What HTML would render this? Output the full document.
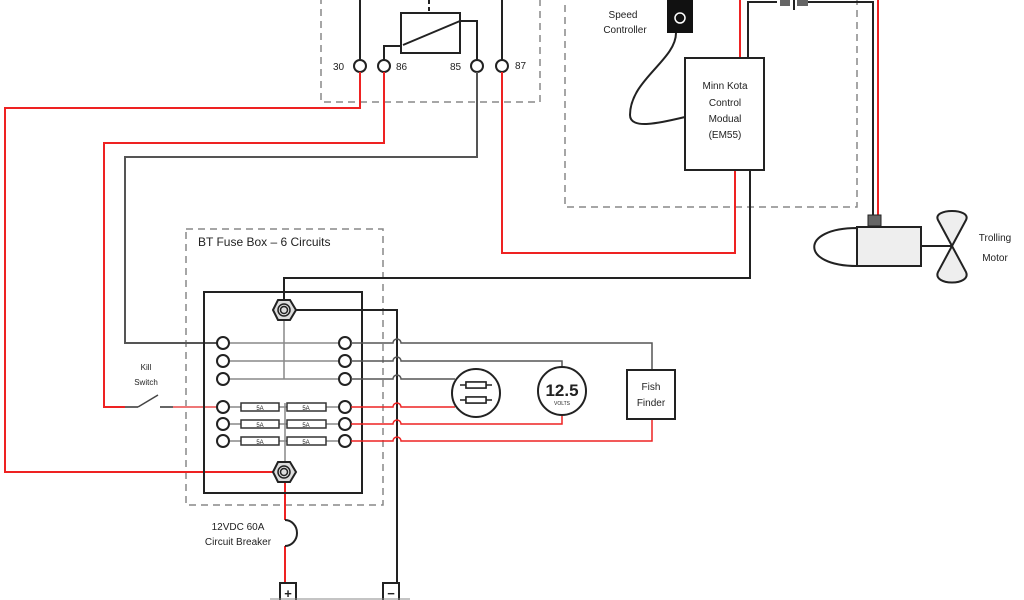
<!DOCTYPE html>
<html><head><style>body{margin:0;background:#fff}svg{display:block}text{font-family:"Liberation Sans",sans-serif;fill:#222}</style></head><body>
<svg width="1024" height="600" viewBox="0 0 1024 600" xmlns="http://www.w3.org/2000/svg">
<g fill="none" stroke="#888" stroke-width="1.5" stroke-dasharray="7,5">
<rect x="321" y="-10" width="219" height="112"/>
<rect x="565" y="-10" width="292" height="217"/>
<rect x="186" y="229" width="197" height="276"/>
</g>
<!-- relay -->
<g fill="none" stroke="#222" stroke-width="2">
<line x1="360" y1="0" x2="360" y2="60"/>
<line x1="502" y1="0" x2="502" y2="60"/>
<rect x="401" y="13" width="59" height="40"/>
<line x1="403" y1="45" x2="460" y2="21"/>
<polyline points="384,60 384,46 402,46"/>
<polyline points="460,21 477,21 477,60"/>
<line x1="429" y1="0" x2="429" y2="13" stroke-dasharray="4,3"/>
</g>
<g fill="#fff" stroke="#222" stroke-width="2">
<circle cx="360" cy="66" r="6"/><circle cx="384" cy="66" r="6"/><circle cx="477" cy="66" r="6"/><circle cx="502" cy="66" r="6"/>
</g>
<g font-size="10"><text x="333" y="70">30</text><text x="396" y="70">86</text><text x="450" y="70">85</text><text x="515" y="69">87</text></g>
<!-- wires -->
<g fill="none" stroke-width="2">
<polyline stroke="#e22" points="360,72 360,108 5,108 5,472 276,472"/>
<polyline stroke="#e22" points="384,72 384,143 104,143 104,407 125,407"/>
<polyline stroke="#555" points="477,72 477,157 125,157 125,343 217,343"/>
<polyline stroke="#e22" points="502,72 502,253 735,253 735,170"/>
<polyline stroke="#222" points="750,170 750,278 284,278 284,300"/>
<polyline stroke="#222" points="294,310 397,310 397,583"/>
<line stroke="#e22" x1="740" y1="0" x2="740" y2="58"/>
<polyline stroke="#222" points="748,58 748,2 777,2"/>
<polyline stroke="#222" points="805,2 873,2 873,215"/>
<line stroke="#e22" x1="878" y1="0" x2="878" y2="215"/>
<path stroke="#222" d="M676,33 C676,60 630,80 630,115 C630,130 660,123 685,117"/>
<line stroke="#e22" x1="285" y1="482" x2="285" y2="520"/>
<line stroke="#e22" x1="285" y1="546" x2="285" y2="584"/>
<path stroke="#222" d="M285,520 a12,13 0 0 1 0,26"/>
<line stroke="#666" x1="125" y1="407" x2="138" y2="407"/>
<line stroke="#444" stroke-width="1.5" x1="138" y1="407" x2="158" y2="395"/>
<line stroke="#666" x1="160" y1="407" x2="173" y2="407"/>
<line stroke="#e77" x1="173" y1="407" x2="217" y2="407"/>
</g>
<!-- speed controller, module -->
<rect x="667" y="0" width="26" height="33" fill="#111"/>
<circle cx="680" cy="18" r="5" fill="none" stroke="#fff" stroke-width="1.5"/>
<text x="623" y="18" font-size="10" text-anchor="middle">Speed</text>
<text x="625" y="33" font-size="10" text-anchor="middle">Controller</text>
<rect x="685" y="58" width="79" height="112" fill="#fff" stroke="#222" stroke-width="2"/>
<g font-size="10" text-anchor="middle"><text x="725" y="89">Minn Kota</text><text x="725" y="106">Control</text><text x="725" y="122">Modual</text><text x="725" y="138">(EM55)</text></g>
<rect x="780" y="0" width="10" height="6" fill="#666"/><rect x="797" y="0" width="11" height="6" fill="#666"/>
<line x1="794" y1="0" x2="794" y2="10" stroke="#222" stroke-width="2"/>
<!-- motor -->
<path d="M857,228 C800,228 800,266 857,266 Z" fill="#fff" stroke="#222" stroke-width="2"/>
<rect x="857" y="227" width="64" height="39" fill="#eee" stroke="#222" stroke-width="2"/>
<rect x="868" y="215" width="13" height="11" fill="#666" stroke="#222"/>
<line x1="921" y1="246" x2="952" y2="246" stroke="#222" stroke-width="2"/>
<path d="M952,246 L938,220 C932,208 972,208 966,220 Z M952,246 L938,272 C932,286 972,286 966,272 Z" fill="#eee" stroke="#222" stroke-width="2"/>
<text x="995" y="241" font-size="10" text-anchor="middle">Trolling</text>
<text x="995" y="261" font-size="10" text-anchor="middle">Motor</text>
<!-- fuse box -->
<text x="198" y="246" font-size="12">BT Fuse Box – 6 Circuits</text>
<rect x="204" y="292" width="158" height="201" fill="none" stroke="#222" stroke-width="2"/>
<g stroke="#888" stroke-width="1.5" fill="none">
<line x1="284" y1="318" x2="284" y2="379"/>
<line x1="285" y1="403" x2="285" y2="462"/>
<line x1="223" y1="343" x2="345" y2="343"/><line x1="223" y1="361" x2="345" y2="361"/><line x1="223" y1="379" x2="345" y2="379"/>
<line x1="223" y1="407" x2="345" y2="407"/><line x1="223" y1="424" x2="345" y2="424"/><line x1="223" y1="441" x2="345" y2="441"/>
</g>
<g fill="#fff" stroke="#333" stroke-width="1.5">
<rect x="241" y="403" width="38" height="8"/><rect x="287" y="403" width="39" height="8"/>
<rect x="241" y="420" width="38" height="8"/><rect x="287" y="420" width="39" height="8"/>
<rect x="241" y="437" width="38" height="8"/><rect x="287" y="437" width="39" height="8"/>
</g>
<g font-size="6" text-anchor="middle"><text x="260" y="410">5A</text><text x="306" y="410">5A</text><text x="260" y="427">5A</text><text x="306" y="427">5A</text><text x="260" y="444">5A</text><text x="306" y="444">5A</text></g>
<g fill="#fff" stroke="#222" stroke-width="2">
<circle cx="223" cy="343" r="6"/><circle cx="223" cy="361" r="6"/><circle cx="223" cy="379" r="6"/><circle cx="223" cy="407" r="6"/><circle cx="223" cy="424" r="6"/><circle cx="223" cy="441" r="6"/>
<circle cx="345" cy="343" r="6"/><circle cx="345" cy="361" r="6"/><circle cx="345" cy="379" r="6"/><circle cx="345" cy="407" r="6"/><circle cx="345" cy="424" r="6"/><circle cx="345" cy="441" r="6"/>
</g>
<g fill="#ddd" stroke="#222" stroke-width="2">
<polygon points="273,310 278,300 290,300 296,310 290,320 278,320"/>
<polygon points="273,472 278,462 290,462 296,472 290,482 278,482"/>
</g>
<g fill="none" stroke="#222" stroke-width="1.5"><circle cx="284" cy="310" r="6"/><circle cx="284" cy="310" r="3.5"/><circle cx="284" cy="472" r="6"/><circle cx="284" cy="472" r="3.5"/></g>
<!-- right wires with hops -->
<g fill="none" stroke-width="1.5">
<path stroke="#555" d="M351,343 H393 a4,4 0 0 1 8,0 H652 V370"/>
<path stroke="#555" d="M351,361 H393 a4,4 0 0 1 8,0 H562 V367"/>
<path stroke="#555" d="M351,379 H393 a4,4 0 0 1 8,0 H455"/>
<path stroke="#e22" d="M351,407 H393 a4,4 0 0 1 8,0 H455"/>
<path stroke="#e22" d="M351,424 H393 a4,4 0 0 1 8,0 H562 V415"/>
<path stroke="#e22" d="M351,441 H393 a4,4 0 0 1 8,0 H652 V419"/>
</g>
<circle cx="476" cy="393" r="24" fill="#fff" stroke="#222" stroke-width="2"/>
<g fill="#fff" stroke="#222" stroke-width="1.5"><rect x="466" y="382" width="20" height="6"/><rect x="466" y="397" width="20" height="6"/></g>
<g stroke="#222" stroke-width="1.5"><line x1="460" y1="385" x2="492" y2="385"/><line x1="460" y1="400" x2="492" y2="400"/></g>
<g fill="#fff" stroke="#222" stroke-width="1.5"><rect x="466" y="382" width="20" height="6"/><rect x="466" y="397" width="20" height="6"/></g>
<circle cx="562" cy="391" r="24" fill="#fff" stroke="#222" stroke-width="2"/>
<text x="562" y="396" font-size="17" font-weight="bold" text-anchor="middle" font-family="Liberation Mono">12.5</text>
<text x="562" y="405" font-size="5" text-anchor="middle">VOLTS</text>
<rect x="627" y="370" width="48" height="49" fill="#fff" stroke="#222" stroke-width="2"/>
<text x="651" y="390" font-size="10" text-anchor="middle">Fish</text>
<text x="651" y="406" font-size="10" text-anchor="middle">Finder</text>
<text x="146" y="370" font-size="8" text-anchor="middle">Kill</text>
<text x="146" y="385" font-size="8" text-anchor="middle">Switch</text>
<text x="238" y="530" font-size="10" text-anchor="middle">12VDC 60A</text>
<text x="238" y="545" font-size="10" text-anchor="middle">Circuit Breaker</text>
<rect x="280" y="583" width="16" height="20" fill="#fff" stroke="#222" stroke-width="2"/>
<text x="288" y="598" font-size="13" text-anchor="middle" font-weight="bold">+</text>
<rect x="383" y="583" width="16" height="20" fill="#fff" stroke="#222" stroke-width="2"/>
<text x="391" y="598" font-size="13" text-anchor="middle" font-weight="bold">−</text>
<line x1="270" y1="599" x2="410" y2="599" stroke="#888" stroke-width="1"/>
</svg>
</body></html>
